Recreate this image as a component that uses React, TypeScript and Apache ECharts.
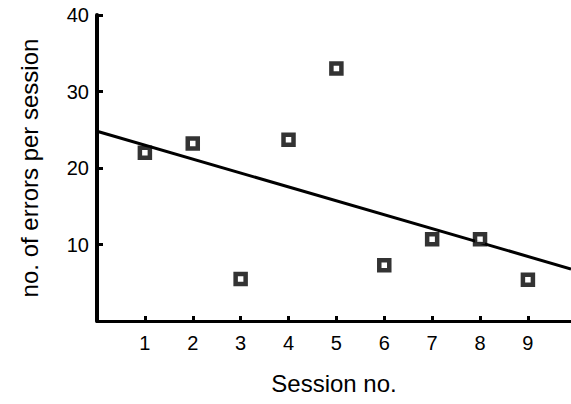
import React, { useEffect, useRef } from "react";
import * as echarts from "echarts";

const sessions = [1, 2, 3, 4, 5, 6, 7, 8, 9];
const errors = [22.0, 23.2, 5.5, 23.7, 33.0, 7.3, 10.7, 10.7, 5.4];
const trendX = [0, 9.9];
const trendY = [24.8, 6.8];
const yTicks = [10, 20, 30, 40];

export default function App() {
  const ref = useRef<HTMLDivElement>(null);
  useEffect(() => {
    if (!ref.current) return;
    const chart = echarts.init(ref.current, null, { renderer: "svg" });
    const font = "Liberation Sans";
    chart.setOption({
      animation: false,
      backgroundColor: "#fff",
      grid: { left: 97, right: 0, top: 15, bottom: 83 },
      xAxis: {
        type: "value",
        min: 0,
        max: 9.9,
        interval: 1,
        name: "Session no.",
        nameLocation: "middle",
        nameGap: 50,
        nameTextStyle: { fontFamily: font, fontSize: 24, color: "#000" },
        axisLine: { show: true, onZero: false, lineStyle: { color: "#000", width: 3 } },
        axisTick: { show: true, inside: true, length: 5, lineStyle: { color: "#000", width: 3 } },
        axisLabel: {
          fontFamily: font,
          fontSize: 20,
          color: "#000",
          margin: 12,
          showMaxLabel: false,
          formatter: (v: number) => (sessions.includes(v) ? String(v) : ""),
        },
        splitLine: { show: false },
      },
      yAxis: {
        type: "value",
        min: 0,
        max: 40,
        interval: 10,
        name: "no. of errors per session",
        nameLocation: "middle",
        nameGap: 56,
        nameTextStyle: { fontFamily: font, fontSize: 24, color: "#000" },
        axisLine: { show: true, lineStyle: { color: "#000", width: 4 } },
        axisTick: { show: true, inside: true, length: 6, lineStyle: { color: "#000", width: 3 } },
        axisLabel: {
          fontFamily: font,
          fontSize: 20,
          color: "#000",
          margin: 8,
          formatter: (v: number) => (yTicks.includes(v) ? String(v) : ""),
        },
        splitLine: { show: false },
      },
      series: [
        {
          type: "line",
          data: trendX.map((x, i) => [x, trendY[i]]),
          showSymbol: false,
          symbol: "none",
          lineStyle: { color: "#000", width: 3 },
          z: 2,
        },
        {
          type: "scatter",
          data: sessions.map((s, i) => [s, errors[i]]),
          symbol: "rect",
          symbolSize: 10,
          itemStyle: { color: "#fff", borderColor: "#000", borderWidth: 4.5 },
          z: 3,
        },
      ],
    });
    return () => chart.dispose();
  }, []);
  return <div ref={ref} style={{ width: 571, height: 404, position: "absolute", left: 0, top: 0 }} />;
}
